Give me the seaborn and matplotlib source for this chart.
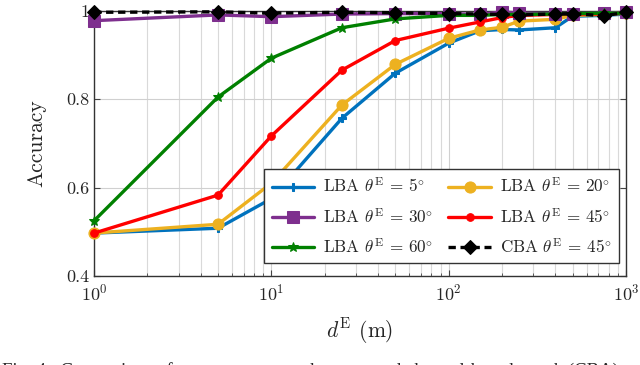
import numpy as np
import pandas as pd
import matplotlib
matplotlib.use('Agg')
import matplotlib.pyplot as plt
import seaborn as sns
from matplotlib.ticker import LogLocator, FixedLocator, FixedFormatter

# distance d^E (m)
dist = [1, 5, 10, 25, 50, 100, 150, 200, 250, 400, 500, 750, 1000]

lba_5 = [0.497, 0.508, 0.575, 0.757, 0.859, 0.927, 0.955, 0.958, 0.957, 0.962, 0.988, 0.990, 0.993]
lba_20 = [0.497, 0.517, 0.610, 0.787, 0.879, 0.938, 0.957, 0.963, 0.977, 0.981, 0.990, 0.992, 0.995]
lba_30 = [0.978, 0.991, 0.987, 0.993, 0.994, 0.994, 0.992, 0.998, 0.995, 0.994, 0.994, 0.995, 0.997]
lba_45 = [0.497, 0.583, 0.717, 0.866, 0.933, 0.961, 0.975, 0.985, 0.990, 0.992, 0.993, 0.993, 0.995]
lba_60 = [0.525, 0.805, 0.893, 0.962, 0.982, 0.990, 0.990, 0.992, 0.992, 0.993, 0.994, 0.995, 0.995]
cba_45 = [0.997, 0.998, 0.995, 0.997, 0.996, 0.994, 0.993, 0.992, 0.991, 0.993, 0.994, 0.989, 0.997]

labels = [r'LBA $\theta^{\mathrm{E}}$ = $5^{\circ}$', r'LBA $\theta^{\mathrm{E}}$ = $20^{\circ}$',
          r'LBA $\theta^{\mathrm{E}}$ = $30^{\circ}$', r'LBA $\theta^{\mathrm{E}}$ = $45^{\circ}$',
          r'LBA $\theta^{\mathrm{E}}$ = $60^{\circ}$', r'CBA $\theta^{\mathrm{E}}$ = $45^{\circ}$']

sns.set_style('ticks')
plt.rcParams['font.family'] = ['cmr10', 'DejaVu Serif']
plt.rcParams['mathtext.fontset'] = 'cm'
plt.rcParams['axes.formatter.use_mathtext'] = True
plt.rcParams['axes.unicode_minus'] = False

fig = plt.figure(figsize=(6.4, 3.65), dpi=100)
ax = fig.add_axes([0.147, 0.244, 0.831, 0.726])

# style per series: color, marker, size, linestyle
styles = [
    (lba_5, '#0072BD', 'P', 6, '-'),
    (lba_20, '#EDB120', 'o', 8, '-'),
    (lba_30, '#7E2F8E', 's', 9, '-'),
    (lba_45, '#FF0000', 'o', 5.5, '-'),
    (lba_60, '#008000', '*', 7, '-'),
    (cba_45, '#000000', 'D', 7, (0, (2.2, 1.4))),
]

for (vals, c, m, ms, ls), lab in zip(styles, labels):
    df = pd.DataFrame({'d': dist, 'acc': vals})
    sns.lineplot(data=df, x='d', y='acc', ax=ax, color=c, marker=m, markersize=ms,
                 markeredgecolor=c, linewidth=2.4, linestyle=ls, label=lab, clip_on=False, zorder=3)

ax.set_xscale('log')
ax.set_xlim(1, 1000)
ax.set_ylim(0.4, 1.0)
ax.yaxis.set_major_locator(FixedLocator([0.4, 0.6, 0.8, 1.0]))
ax.yaxis.set_major_formatter(FixedFormatter(['0.4', '0.6', '0.8', '1']))
ax.xaxis.set_major_locator(LogLocator(base=10, numticks=10))
ax.xaxis.set_minor_locator(LogLocator(base=10, subs=np.arange(2, 10), numticks=10))

ax.grid(True, which='major', color='#d0d0d0', linewidth=0.8, zorder=0)
ax.grid(True, which='minor', axis='x', color='#d9d9d9', linewidth=0.8, zorder=0)
ax.tick_params(which='both', direction='in', top=True, right=True, labelsize=13, color='#444444')
ax.tick_params(which='major', length=4)
ax.tick_params(which='minor', length=2)
ax.tick_params(axis='x', pad=5)
for s in ax.spines.values():
    s.set_color('#333333')
    s.set_linewidth(1.0)

ax.set_xlabel(r'$d^{\mathrm{E}}$ (m)', fontsize=15.5, labelpad=9)
ax.set_ylabel('Accuracy', fontsize=15.5, labelpad=14)

h, l = ax.get_legend_handles_labels()
order = [0, 2, 4, 1, 3, 5]
leg = ax.legend([h[i] for i in order], [l[i] for i in order], ncol=2, loc='lower right',
                bbox_to_anchor=(0.994, 0.035), fontsize=12.3, frameon=True, fancybox=False,
                edgecolor='#333333', framealpha=1, handlelength=2.5, columnspacing=0.9,
                handletextpad=0.5, labelspacing=0.65, borderpad=0.45, borderaxespad=0.2)
leg.get_frame().set_linewidth(1.0)
leg.set_zorder(5)

fig.text(0.003, -11 / 365,
         'Fig. 4:  Comparison of accuracy among the proposed channel-based attack (CBA) and location-based attack',
         family=['Liberation Serif'], fontsize=13.5, va='baseline', ha='left')

fig.savefig('out.png', dpi=100)
